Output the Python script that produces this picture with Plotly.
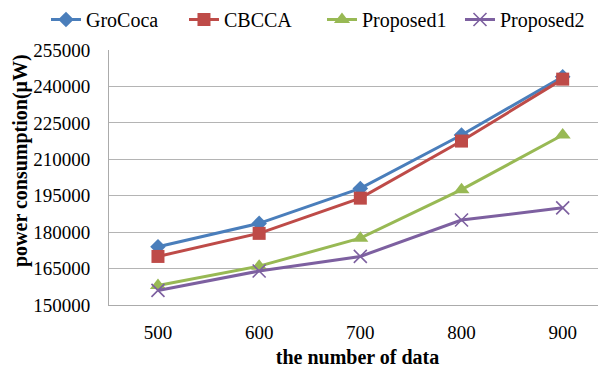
import plotly.graph_objects as go

data_sizes = [500, 600, 700, 800, 900]
grococa = [174000, 183600, 198000, 220000, 244000]
cbcca = [170000, 179500, 194000, 217500, 243000]
proposed1 = [158000, 166000, 177500, 197500, 220000]
proposed2 = [156000, 164000, 170000, 185000, 190000]
y_ticks = [150000, 165000, 180000, 195000, 210000, 225000, 240000, 255000]

FONT = "Liberation Serif, Times New Roman, serif"

series = [
    ("GroCoca", grococa, "#4A7EBB", dict(symbol="diamond", size=12)),
    ("CBCCA", cbcca, "#BE4B48", dict(symbol="square", size=13)),
    ("Proposed1", proposed1, "#98B954", dict(symbol="triangle-up", size=14)),
    ("Proposed2", proposed2, "#7D60A0", dict(symbol="x-thin-open", size=13, line=dict(width=1.6))),
]

fig = go.Figure()
for name, vals, color, mk in series:
    m = dict(color=color, **mk)
    if "line" in m:
        m["line"]["color"] = color
    fig.add_trace(go.Scatter(
        x=data_sizes, y=vals, name=name, mode="lines+markers",
        line=dict(color=color, width=3), marker=m,
    ))

# page body has an 8px default margin: the figure is sized/offset to compensate
fig.update_layout(
    width=598, height=362,
    margin=dict(l=101, r=0, t=42, b=65, autoexpand=False),
    paper_bgcolor="white", plot_bgcolor="white",
    font=dict(family=FONT, size=19, color="black"),
    showlegend=True,
    legend=dict(
        orientation="h", x=-0.1268, xanchor="left", xref="paper",
        y=1.196, yanchor="top", yref="paper",
        font=dict(family=FONT, size=20),
        entrywidth=93, entrywidthmode="pixels", tracegroupgap=0,
        bgcolor="rgba(0,0,0,0)",
    ),
    xaxis=dict(
        range=[451.6, 942.8], tickvals=data_sizes, ticktext=[str(v) for v in data_sizes],
        showgrid=False, zeroline=False, showline=True, linecolor="#ABABAB", linewidth=1,
        ticks="", ticklabelstandoff=10, tickfont=dict(size=19), automargin=False,
        title=dict(text="<b>the number of data</b>", font=dict(size=20), standoff=8),
    ),
    yaxis=dict(
        range=[150000, 255000], tickvals=y_ticks, ticktext=[str(v) for v in y_ticks],
        showgrid=True, gridcolor="#B4B4B4", gridwidth=1, zeroline=False,
        showline=True, linecolor="#ABABAB", linewidth=1, automargin=False,
        ticks="", ticklabelstandoff=14, tickfont=dict(size=19),
    ),
    annotations=[dict(
        text="<b>power consumption(μW)</b>", textangle=-90,
        xref="paper", yref="paper", x=-0.179, y=0.5647,
        xanchor="center", yanchor="middle", showarrow=False,
        font=dict(family=FONT, size=20, color="black"),
    )],
)
fig.write_html("out.html", config={"displayModeBar": False})
